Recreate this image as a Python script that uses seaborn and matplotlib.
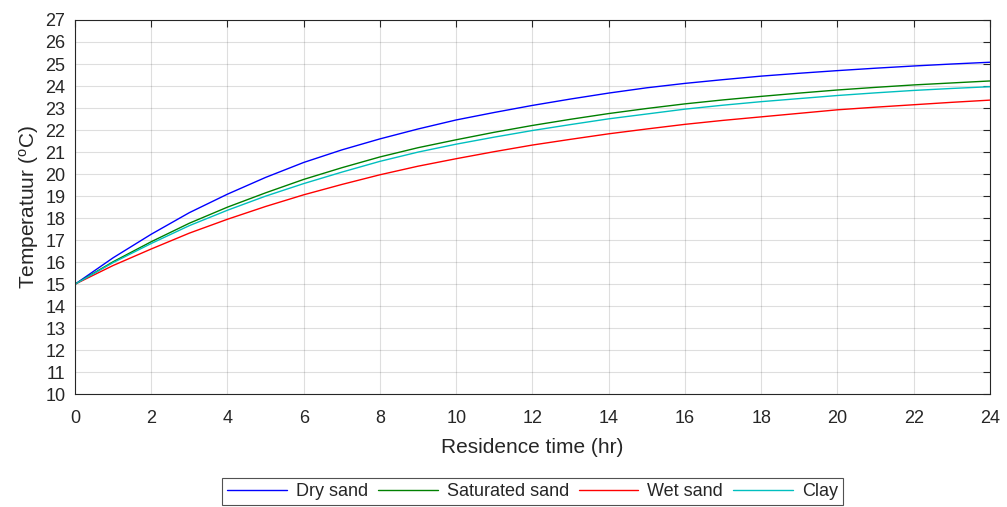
import numpy as np
import pandas as pd
import matplotlib
matplotlib.use("Agg")
import matplotlib.pyplot as plt
import seaborn as sns

hours = [0, 1, 2, 3, 4, 5, 6, 7, 8, 9, 10, 11, 12, 13, 14, 15, 16, 17, 18, 19, 20, 21, 22, 23, 24]
dry_sand = [15.0, 16.2, 17.27, 18.25, 19.09, 19.85, 20.53, 21.1, 21.6, 22.05, 22.46, 22.8, 23.12, 23.41, 23.68, 23.92, 24.12, 24.29, 24.45, 24.58, 24.7, 24.81, 24.91, 25.0, 25.08]
saturated_sand = [15.0, 16.02, 16.93, 17.77, 18.5, 19.15, 19.76, 20.29, 20.78, 21.2, 21.56, 21.9, 22.21, 22.49, 22.75, 22.98, 23.19, 23.37, 23.53, 23.68, 23.82, 23.94, 24.05, 24.14, 24.23]
wet_sand = [15.0, 15.85, 16.6, 17.32, 17.95, 18.53, 19.06, 19.53, 19.97, 20.36, 20.7, 21.02, 21.32, 21.58, 21.83, 22.05, 22.26, 22.44, 22.6, 22.76, 22.92, 23.04, 23.15, 23.26, 23.36]
clay = [15.0, 15.98, 16.85, 17.66, 18.36, 19.0, 19.57, 20.09, 20.58, 21.0, 21.36, 21.68, 21.98, 22.25, 22.51, 22.73, 22.95, 23.13, 23.29, 23.43, 23.57, 23.69, 23.8, 23.89, 23.97]

series_names = ["Dry sand", "Saturated sand", "Wet sand", "Clay"]
series_values = [dry_sand, saturated_sand, wet_sand, clay]
colors = ["#0000ff", "#008000", "#ff0000", "#00bfbf"]

x_ticks = list(range(0, 25, 2))
y_ticks = list(range(10, 28, 1))

rows = []
for name, vals in zip(series_names, series_values):
    for h, v in zip(hours, vals):
        rows.append({"hours": h, "temp": v, "series": name})
df = pd.DataFrame(rows)

sns.set_theme(style="white")
plt.rcParams["font.family"] = ["Liberation Sans", "DejaVu Sans"]
plt.rcParams["mathtext.fontset"] = "custom"
plt.rcParams["mathtext.rm"] = "Liberation Sans"
plt.rcParams["mathtext.it"] = "Liberation Sans"

fig = plt.figure(figsize=(10.07, 5.07), dpi=100)
ax = fig.add_axes([0.0745, 0.2223, 0.9085, 0.7383])

sns.lineplot(data=df, x="hours", y="temp", hue="series", hue_order=series_names,
             palette=colors, linewidth=1.0, ax=ax, legend=False)

ax.set_xlim(0, 24)
ax.set_ylim(10, 27)
ax.set_xticks(x_ticks)
ax.set_yticks(y_ticks)
ax.grid(True, color="#262626", alpha=0.15, linewidth=0.8)
ax.tick_params(direction="in", length=5, width=0.8, top=True, right=True,
               labelsize=13, colors="#262626")
ax.tick_params(axis="x", pad=11)
ax.tick_params(axis="y", pad=7)
for sp in ax.spines.values():
    sp.set_color("#262626")
    sp.set_linewidth(0.8)
    sp.set_visible(True)

ax.set_xlabel("Residence time (hr)", fontsize=15, color="#262626", labelpad=8)
ax.set_ylabel("Temperatuur ($^o$C)", fontsize=15, color="#262626", labelpad=3)

handles = [plt.Line2D([0], [0], color=c, lw=1.0) for c in colors]
leg = fig.legend(handles, series_names, loc="upper center",
                 bbox_to_anchor=(0.5288, 0.058), ncol=4, frameon=True,
                 fancybox=False, edgecolor="#262626", fontsize=13,
                 handlelength=3.3, columnspacing=0.55, handletextpad=0.5,
                 borderpad=0.3, borderaxespad=0)
leg.get_frame().set_linewidth(0.8)
for t in leg.get_texts():
    t.set_color("#262626")

fig.savefig("out.png", dpi=100)
